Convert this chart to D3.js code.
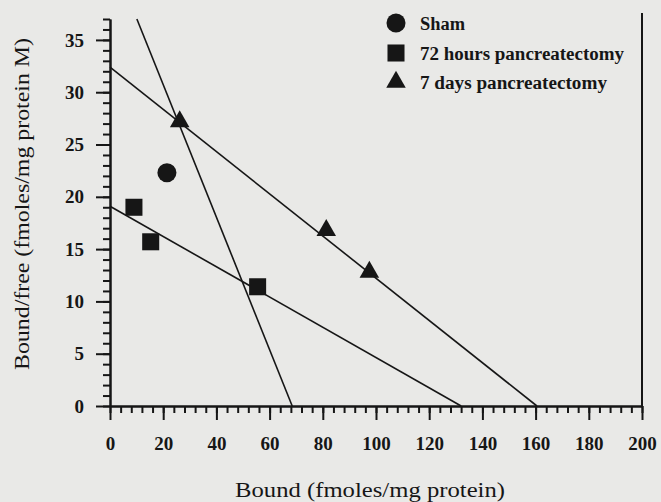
<!DOCTYPE html>
<html>
<head>
<meta charset="utf-8">
<script src="https://cdn.jsdelivr.net/npm/d3@7"></script>
<style>
  body { margin: 0; background: #e9e9e7; }
  svg { display: block; }
  text { font-family: "Liberation Serif", "Times New Roman", serif; fill: #161616; }
</style>
</head>
<body>
<div id="chart"></div>
<script>
var svgWidth = 661;
var svgHeight = 502;

// axis ticks
var xTicks = [0, 20, 40, 60, 80, 100, 120, 140, 160, 180, 200];
var yTicks = [0, 5, 10, 15, 20, 25, 30, 35];

// legend
var groupNames = ["Sham", "72 hours pancreatectomy", "7 days pancreatectomy"];

// points (bound, bound/free)
var shamX = [21.4];
var shamY = [22.3];
var h72X = [9.0, 15.3, 55.5];
var h72Y = [19.0, 15.7, 11.4];
var d7X = [26.2, 81.3, 97.5];
var d7Y = [27.2, 16.8, 12.8];

// scatchard fit lines: where each one meets the y and x axis
var fitYIntercept = [43.4, 32.4, 19.1];
var fitXIntercept = [68.5, 160.5, 132];

var ink = "#161616";
var yMax = 37;

var svg = d3.select("#chart")
  .append("svg")
  .attr("width", svgWidth)
  .attr("height", svgHeight);

var x = d3.scaleLinear()
  .domain([0, 200])
  .range([110, 642]);

var y = d3.scaleLinear()
  .domain([0, yMax])
  .range([406, 19]);

// minor ticks first, majors on top
svg.append("g")
  .attr("transform", "translate(0," + y(0) + ")")
  .call(d3.axisBottom(x).tickValues(d3.range(0, 201, 4)).tickSize(7).tickSizeOuter(0).tickFormat(""));

svg.append("g")
  .attr("transform", "translate(" + x(0) + ",0)")
  .call(d3.axisLeft(y).tickValues(d3.range(0, yMax + 1, 1)).tickSize(7).tickSizeOuter(0).tickFormat(""));

var xAxis = svg.append("g")
  .attr("transform", "translate(0," + y(0) + ")")
  .call(d3.axisBottom(x).tickValues(xTicks).tickSize(14).tickSizeOuter(0).tickPadding(17));

var yAxis = svg.append("g")
  .attr("transform", "translate(" + x(0) + ",0)")
  .call(d3.axisLeft(y).tickValues(yTicks).tickSize(14).tickSizeOuter(0).tickPadding(12));

svg.selectAll(".domain, .tick line")
  .attr("stroke", ink)
  .attr("stroke-width", 2);

svg.selectAll(".tick text")
  .style("font-size", "19px")
  .style("font-weight", "bold")
  .attr("fill", ink);

// right border line
svg.append("line")
  .attr("x1", x(200)).attr("x2", x(200))
  .attr("y1", 13).attr("y2", y(0))
  .attr("stroke", ink)
  .attr("stroke-width", 2);

// fit lines, clipped at the top of the y axis
fitYIntercept.forEach(function (b, i) {
  var a = fitXIntercept[i];
  var xStart = b > yMax ? (b - yMax) * a / b : 0;
  svg.append("line")
    .attr("x1", x(xStart))
    .attr("y1", y(b - b / a * xStart))
    .attr("x2", x(a))
    .attr("y2", y(0))
    .attr("stroke", ink)
    .attr("stroke-width", 1.6);
});

var circleSym = d3.symbol().type(d3.symbolCircle).size(285);
var squareSym = d3.symbol().type(d3.symbolSquare).size(290);
var triSym = d3.symbol().type(d3.symbolTriangle).size(165);

function drawPoints(xs, ys, sym) {
  svg.append("g")
    .selectAll("path")
    .data(xs)
    .enter()
    .append("path")
    .attr("d", sym)
    .attr("transform", (d, i) => "translate(" + x(d) + "," + y(ys[i]) + ")")
    .attr("fill", ink);
}

drawPoints(shamX, shamY, circleSym);
drawPoints(h72X, h72Y, squareSym);
drawPoints(d7X, d7Y, triSym);

// legend
var legendSyms = [circleSym, squareSym, triSym];
var legendY = [23, 53, 82];
var legendWidth = [45, 204, 187];

var legend = svg.append("g");
groupNames.forEach(function (name, i) {
  legend.append("path")
    .attr("d", legendSyms[i])
    .attr("transform", "translate(396," + legendY[i] + ")")
    .attr("fill", ink);
  legend.append("text")
    .attr("x", 420)
    .attr("y", legendY[i] + 7)
    .attr("textLength", legendWidth[i])
    .attr("lengthAdjust", "spacingAndGlyphs")
    .style("font-size", "18px")
    .style("font-weight", "bold")
    .text(name);
});

// axis titles
svg.append("text")
  .attr("x", 235)
  .attr("y", 497)
  .attr("textLength", 270)
  .attr("lengthAdjust", "spacingAndGlyphs")
  .style("font-size", "22px")
  .text("Bound (fmoles/mg protein)");

svg.append("text")
  .attr("transform", "translate(29,204) rotate(-90)")
  .attr("text-anchor", "middle")
  .attr("textLength", 332)
  .attr("lengthAdjust", "spacingAndGlyphs")
  .style("font-size", "22px")
  .text("Bound/free (fmoles/mg protein M)");
</script>
</body>
</html>
